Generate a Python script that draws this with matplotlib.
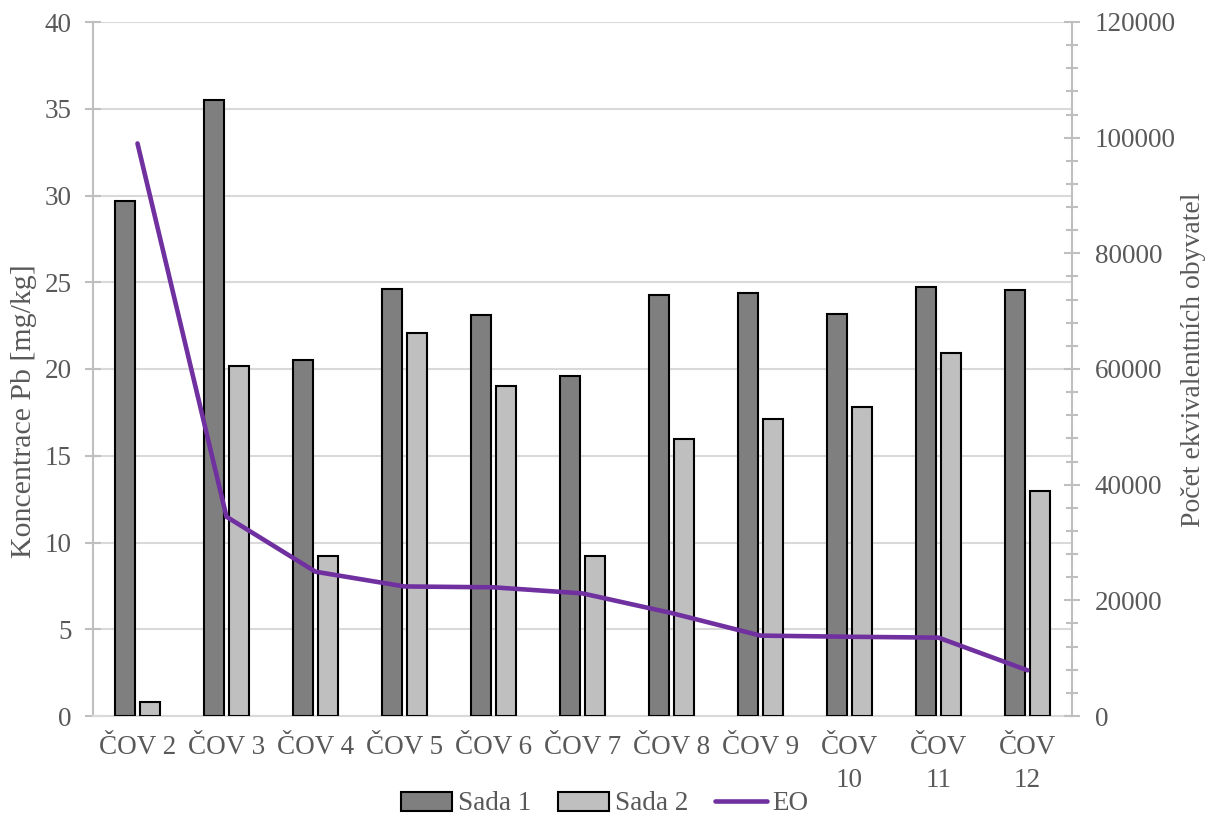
import matplotlib
matplotlib.use("Agg")
import matplotlib.pyplot as plt
import numpy as np
from matplotlib.patches import Patch
from matplotlib.lines import Line2D
from matplotlib.ticker import MultipleLocator

categories = ["ČOV 2", "ČOV 3", "ČOV 4", "ČOV 5", "ČOV 6", "ČOV 7", "ČOV 8", "ČOV 9", "ČOV\n10", "ČOV\n11", "ČOV\n12"]
sada1 = [29.7, 35.5, 20.5, 24.6, 23.1, 19.6, 24.25, 24.4, 23.15, 24.75, 24.55]
sada2 = [0.8, 20.2, 9.2, 22.1, 19.0, 9.2, 15.95, 17.1, 17.8, 20.9, 12.95]
eo = [99000, 34450, 24950, 22400, 22250, 21200, 17800, 13900, 13700, 13550, 7900]

plt.rcParams['font.family'] = ['Liberation Serif', 'DejaVu Serif']
txt = '#595959'
axc = '#bfbfbf'
fs = 19.5

W, H = 1209, 818
fig = plt.figure(figsize=(W/100, H/100), dpi=100)
ax = fig.add_axes([93/W, 1-716/H, (1072-93)/W, (716-22)/H])
ax2 = ax.twinx()

x = np.arange(len(categories))
w = 0.225
off = 0.137
ax.bar(x - off, sada1, w, color='#7f7f7f', edgecolor='black', linewidth=1.5, zorder=3)
ax.bar(x + off, sada2, w, color='#bfbfbf', edgecolor='black', linewidth=1.5, zorder=3)
ax2.plot(x, eo, color='#7030a0', linewidth=3.3, solid_capstyle='round', solid_joinstyle='round', zorder=4)

ax.set_xlim(-0.5, len(categories) - 0.5)
ax.set_ylim(0, 40)
ax2.set_ylim(0, 120000)
ax.yaxis.set_major_locator(MultipleLocator(5))
ax2.yaxis.set_major_locator(MultipleLocator(20000))
ax2.yaxis.set_minor_locator(MultipleLocator(4000))

ax.grid(axis='y', color='#d9d9d9', linewidth=1.5, zorder=0)
ax.set_axisbelow(True)

for a in (ax, ax2):
    for s in a.spines.values():
        s.set_visible(False)
ax.spines['left'].set_visible(True)
ax.spines['left'].set_color(axc)
ax.spines['left'].set_linewidth(1.5)
ax.spines['bottom'].set_visible(True)
ax.spines['bottom'].set_color('#d9d9d9')
ax.spines['bottom'].set_linewidth(1.5)
ax2.spines['right'].set_visible(True)
ax2.spines['right'].set_color(axc)
ax2.spines['right'].set_linewidth(1.5)

ax.set_xticks(x)
ax.set_xticklabels(categories, fontsize=fs, color=txt, linespacing=1.4)
ax.tick_params(axis='x', length=0, pad=14)
ax.tick_params(axis='y', direction='inout', length=11, width=1.5, color=axc, labelsize=fs, labelcolor=txt, pad=10)
ax2.tick_params(axis='y', which='major', direction='inout', length=11, width=1.5, color=axc, labelsize=fs, labelcolor=txt, pad=11)
ax2.tick_params(axis='y', which='minor', direction='inout', length=8.5, width=1.5, color=axc)

fig.text(24/W, 1-411/H, "Koncentrace Pb [mg/kg]", rotation=90, ha='center', va='center',
         fontsize=21.5, color=txt)
fig.text(1194/W, 1-360/H, "Počet ekvivalentních obyvatel", rotation=90, ha='center', va='center',
         fontsize=20, color=txt)

handles = [Patch(facecolor='#7f7f7f', edgecolor='black', linewidth=1.5),
           Patch(facecolor='#bfbfbf', edgecolor='black', linewidth=1.5),
           Line2D([0], [0], color='#7030a0', linewidth=3.3, solid_capstyle='round')]
leg = fig.legend(handles, ["Sada 1", "Sada 2", "EO"], loc='center', bbox_to_anchor=(0.5, 1-804/H),
                 ncol=3, frameon=False, fontsize=fs, handlelength=1.9, handletextpad=0.2,
                 columnspacing=1.0, borderaxespad=0)
for t in leg.get_texts():
    t.set_color(txt)

fig.savefig("out.png", dpi=100)
